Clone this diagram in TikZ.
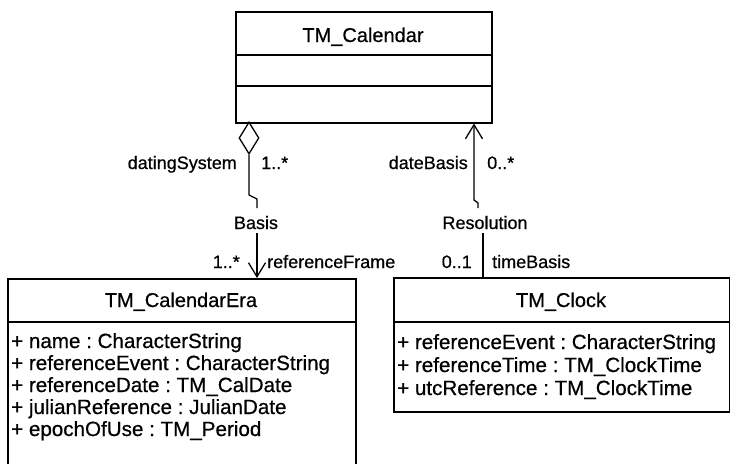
\documentclass[tikz,border=0pt]{standalone}
\usepackage{fontspec}
\setmainfont[FakeBold=0.6]{Liberation Sans}
\usetikzlibrary{arrows.meta,shapes.geometric}
\frenchspacing
\begin{document}
\begin{tikzpicture}[x=1pt,y=-1pt,
  box/.style={draw, line width=1.5pt, inner sep=0pt, anchor=north west},
  divider/.style={line width=1.5pt},
  title/.style={font=\fontsize{20}{24}\selectfont, inner sep=0pt, anchor=base},
  attr/.style={font=\fontsize{20.6}{24}\selectfont, inner sep=0pt, anchor=base west},
  lbl/.style={font=\fontsize{18}{22}\selectfont, inner sep=0pt},
  assoc/.style={line width=1.3pt},
  navarrow/.style={-{Straight Barb[length=14pt,width=17pt,line width=1.3pt]}},
  aggr/.style={draw, diamond, line width=1.3pt, fill=white, minimum width=20pt, minimum height=32pt, inner sep=0pt},
]
\clip (0,0) rectangle (730,463);
\fill[white] (0,0) rectangle (730,463);

% TM_Calendar
\node[box, minimum width=256pt, minimum height=111pt] (cal) at (235,11) {};
\draw[divider] (235,55) -- (491,55);
\draw[divider] (235,86) -- (491,86);
\node[title] (calT) at (363,42) {TM\_Calendar};

% TM_CalendarEra
\node[box, minimum width=348pt, minimum height=230pt] (era) at (7,278) {};
\draw[divider] (7,322) -- (355,322);
\node[title] (eraT) at (181,307) {TM\_CalendarEra};
\node[attr] (e1) at (11,348) {+ name : CharacterString};
\node[attr] (e2) at (11,370) {+ referenceEvent : CharacterString};
\node[attr] (e3) at (11,392) {+ referenceDate : TM\_CalDate};
\node[attr] (e4) at (11,414) {+ julianReference : JulianDate};
\node[attr] (e5) at (11,436) {+ epochOfUse : TM\_Period};

% TM_Clock
\node[box, minimum width=336pt, minimum height=134pt] (clk) at (393,277) {};
\draw[divider] (393,322) -- (729,322);
\node[title] (clkT) at (561,307) {TM\_Clock};
\node[attr] (c1) at (397,349) {+ referenceEvent : CharacterString};
\node[attr] (c2) at (397,372) {+ referenceTime : TM\_ClockTime};
\node[attr] (c3) at (397,395) {+ utcReference : TM\_ClockTime};

% Basis association
\node[aggr] (dia) at (249,138) {};
\draw[assoc] (dia.south) -- (249,195) -- (257,199) -- (257,208);
\node[lbl, anchor=base] (basis) at (256,229) {Basis};
\coordinate (b1) at (257,233);
\draw[assoc, navarrow] (b1) -- (b1 |- era.north);

% Resolution association
\coordinate (r1) at (478,208);
\coordinate (r2) at (474,200);
\draw[assoc, navarrow] (r1) -- (478,203) -- (r2) -- (r2 |- cal.south);
\node[lbl, anchor=base] (res) at (485,229) {Resolution};
\coordinate (r3) at (483,233);
\draw[assoc] (r3) -- (r3 |- clk.north);

% role names and multiplicities
\node[lbl, anchor=base east] (ds) at (237,169) {datingSystem};
\node[lbl, anchor=base west] (m1) at (261,169) {1..*};
\node[lbl, anchor=base east] (db) at (468,169) {dateBasis};
\node[lbl, anchor=base west] (m2) at (487,169) {0..*};
\node[lbl, anchor=base east] (m3) at (240,268) {1..*};
\node[lbl, anchor=base west] (rf) at (267,268) {referenceFrame};
\node[lbl, anchor=base east] (m4) at (472,268) {0..1};
\node[lbl, anchor=base west] (tb) at (492,268) {timeBasis};
\end{tikzpicture}
\end{document}
